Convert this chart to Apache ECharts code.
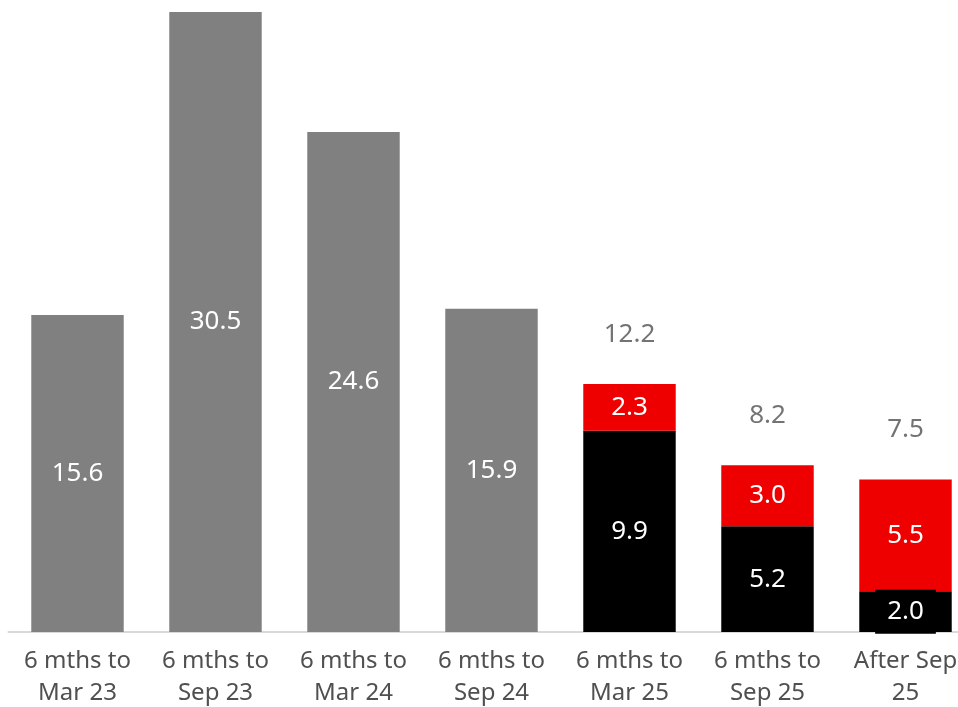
<!DOCTYPE html>
<html><head><meta charset="utf-8">
<script src="https://cdn.jsdelivr.net/npm/echarts@6/dist/echarts.min.js"></script>
<style>html,body{margin:0;padding:0;background:#fff}#c{width:958px;height:707px}</style>
</head><body><div id="c"></div>
<script>
const categories = ['6 mths to\nMar 23','6 mths to\nSep 23','6 mths to\nMar 24','6 mths to\nSep 24','6 mths to\nMar 25','6 mths to\nSep 25','After Sep\n25'];
const grayValues = [15.6, 30.5, 24.6, 15.9, null, null, null];
const blackValues = [null, null, null, null, 9.9, 5.2, 2.0];
const redValues = [null, null, null, null, 2.3, 3.0, 5.5];
const totalValues = [null, null, null, null, 12.2, 8.2, 7.5];

const FONT = 'Noto Sans';
const chart = echarts.init(document.getElementById('c'), null, {renderer: 'canvas'});
const inLabel = (bg) => ({show: true, position: 'inside', color: '#fff', fontFamily: FONT, fontSize: 26,
  formatter: p => p.value == null ? '' : Number(p.value).toFixed(1),
  backgroundColor: bg, padding: bg ? [9, 12] : 0});
chart.setOption({
  animation: false,
  grid: {left: 8.5, right: -16.5, top: 12, bottom: 75, containLabel: false, outerBoundsMode: 'none'},
  xAxis: {type: 'category', data: categories,
    axisLine: {lineStyle: {color: '#d9d9d9', width: 2}}, axisTick: {show: false},
    axisLabel: {interval: 0, color: '#505050', fontFamily: FONT, fontSize: 24, lineHeight: 32, margin: 13}},
  yAxis: {type: 'value', min: 0, max: 30.5, show: false, splitLine: {show: false}},
  series: [
    {type: 'bar', stack: 's', data: grayValues, barWidth: '67%', itemStyle: {color: '#808080'}, label: inLabel(null)},
    {type: 'bar', stack: 's', data: blackValues, barWidth: '67%', itemStyle: {color: '#000000'}, label: inLabel('#000000')},
    {type: 'bar', stack: 's', data: redValues, barWidth: '67%', itemStyle: {color: '#EE0000'}, label: inLabel('#EE0000')},
    {type: 'scatter', data: totalValues, symbolSize: 1, itemStyle: {color: 'rgba(0,0,0,0)'}, z: 5,
      label: {show: true, position: 'top', distance: 36, color: '#505050', fontFamily: FONT, fontSize: 26,
        formatter: p => Number(p.value[1] ?? p.value).toFixed(1)}}
  ]
});
</script></body></html>
